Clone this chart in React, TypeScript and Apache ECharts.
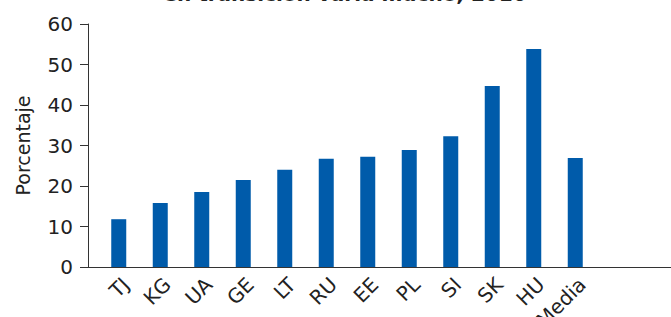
import React, { useEffect, useRef } from "react";
import * as echarts from "echarts";

const categories = ["TJ", "KG", "UA", "GE", "LT", "RU", "EE", "PL", "SI", "SK", "HU", "Media"];
const values = [11.8, 15.8, 18.5, 21.5, 24.0, 26.7, 27.2, 28.9, 32.3, 44.7, 53.8, 26.9];
const yAxisName = "Porcentaje";
const titleText = "en transición varía mucho, 2010";
const yMin = 0;
const yMax = 60;
const yStep = 10;

const FONT = "'DejaVu Sans', 'Liberation Sans', sans-serif";

export default function App() {
  const ref = useRef<HTMLDivElement>(null);
  useEffect(() => {
    if (!ref.current) return;
    const chart = echarts.init(ref.current, null, { renderer: "svg" });
    chart.setOption({
      animation: false,
      backgroundColor: "#ffffff",
      grid: {
        left: 98,
        right: 75,
        top: 24,
        bottom: 50,
        containLabel: false,
        outerBoundsMode: "none",
      },
      graphic: [
        {
          type: "text",
          x: 345,
          y: 4,
          style: {
            text: titleText,
            font: "bold 20px " + FONT,
            fill: "#222",
            align: "center",
            verticalAlign: "bottom",
          },
        },
        {
          type: "line",
          shape: { x1: 88, y1: 267.5, x2: 671, y2: 267.5 },
          style: { stroke: "#333", lineWidth: 1 },
          z: 10,
        },
      ],
      xAxis: {
        type: "category",
        data: categories,
        boundaryGap: true,
        axisLine: { show: false },
        axisTick: { show: false },
        axisLabel: {
          rotate: 45,
          margin: 7,
          interval: 0,
          align: "right",
          verticalAlign: "top",
          color: "#222",
          fontSize: 20,
          fontFamily: FONT,
        },
      },
      yAxis: {
        type: "value",
        min: yMin,
        max: yMax,
        interval: yStep,
        offset: 10,
        name: yAxisName,
        nameLocation: "middle",
        nameGap: 56,
        nameTextStyle: { color: "#222", fontSize: 19, fontFamily: FONT },
        axisLine: { show: true, lineStyle: { color: "#333", width: 1 } },
        axisTick: { show: true, length: 8, lineStyle: { color: "#333" } },
        axisLabel: { margin: 15, color: "#222", fontSize: 20, fontFamily: FONT },
        splitLine: { show: false },
      },
      series: [
        {
          type: "bar",
          data: values,
          barWidth: 15,
          itemStyle: { color: "#005BAA" },
        },
      ],
    });
    return () => chart.dispose();
  }, []);
  return (
    <div
      ref={ref}
      style={{ position: "fixed", left: 0, top: 0, width: 671, height: 317 }}
    />
  );
}
